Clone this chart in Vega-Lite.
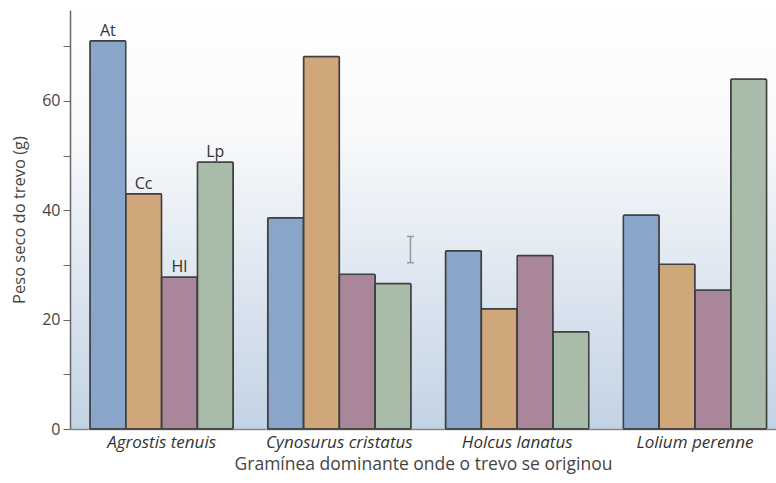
{
  "$schema": "https://vega.github.io/schema/vega-lite/v6.json",
  "width": 706,
  "height": 419,
  "autosize": "none",
  "padding": {"left": 70, "top": 10, "right": 0, "bottom": 54},
  "background": "white",
  "config": {
    "font": "Open Sans",
    "view": {
      "stroke": null,
      "fill": {
        "gradient": "linear",
        "x1": 0, "y1": 0, "x2": 0, "y2": 1,
        "stops": [
          {"offset": 0, "color": "#ffffff"},
          {"offset": 0.3, "color": "#f8f9fb"},
          {"offset": 1, "color": "#c3d3e5"}
        ]
      }
    }
  },
  "datasets": {
    "bars": [
      {"grama": "Agrostis tenuis", "serie": "At", "peso": 71.0},
      {"grama": "Agrostis tenuis", "serie": "Cc", "peso": 43.0},
      {"grama": "Agrostis tenuis", "serie": "Hl", "peso": 27.8},
      {"grama": "Agrostis tenuis", "serie": "Lp", "peso": 48.8},
      {"grama": "Cynosurus cristatus", "serie": "At", "peso": 38.6},
      {"grama": "Cynosurus cristatus", "serie": "Cc", "peso": 68.1},
      {"grama": "Cynosurus cristatus", "serie": "Hl", "peso": 28.3},
      {"grama": "Cynosurus cristatus", "serie": "Lp", "peso": 26.6},
      {"grama": "Holcus lanatus", "serie": "At", "peso": 32.6},
      {"grama": "Holcus lanatus", "serie": "Cc", "peso": 22.0},
      {"grama": "Holcus lanatus", "serie": "Hl", "peso": 31.7},
      {"grama": "Holcus lanatus", "serie": "Lp", "peso": 17.8},
      {"grama": "Lolium perenne", "serie": "At", "peso": 39.1},
      {"grama": "Lolium perenne", "serie": "Cc", "peso": 30.1},
      {"grama": "Lolium perenne", "serie": "Hl", "peso": 25.4},
      {"grama": "Lolium perenne", "serie": "Lp", "peso": 64.0}
    ],
    "erro": [
      {"grama": "Cynosurus cristatus", "lo": 30.4, "hi": 35.2}
    ]
  },
  "layer": [
    {
      "data": {"name": "bars"},
      "mark": {"type": "bar", "stroke": "#3f3f3f", "strokeWidth": 1.5, "cornerRadius": 1},
      "encoding": {
        "x": {
          "field": "grama", "type": "nominal",
          "sort": ["Agrostis tenuis", "Cynosurus cristatus", "Holcus lanatus", "Lolium perenne"],
          "scale": {"paddingInner": 0.194, "paddingOuter": 0.0824, "align": 0.68},
          "axis": {
            "title": "Gramínea dominante onde o trevo se originou",
            "titleFontSize": 17.5, "titleFontWeight": "normal", "titleColor": "#444", "titlePadding": 5,
            "labelFontSize": 17, "labelFontStyle": "italic", "labelColor": "#333", "labelPadding": 5,
            "labelAngle": 0,
            "ticks": false, "domainColor": "#888", "domainWidth": 1.5
          }
        },
        "xOffset": {"field": "serie", "type": "nominal", "sort": ["At", "Cc", "Hl", "Lp"], "scale": {"paddingInner": 0, "paddingOuter": 0}},
        "y": {
          "field": "peso", "type": "quantitative",
          "scale": {"domain": [0, 76.6], "nice": false},
          "axis": {
            "title": "Peso seco do trevo (g)",
            "titleFontSize": 16.5, "titleFontWeight": "normal", "titleColor": "#444", "titlePadding": 14,
            "values": [0, 10, 20, 30, 40, 50, 60, 70],
            "labelExpr": "datum.value % 20 == 0 ? datum.label : ''",
            "labelFontSize": 16, "labelColor": "#444", "labelPadding": 3,
            "tickSize": 7, "tickColor": "#666", "domainColor": "#666", "domainWidth": 1.5,
            "grid": false
          }
        },
        "color": {
          "field": "serie", "type": "nominal",
          "scale": {"domain": ["At", "Cc", "Hl", "Lp"], "range": ["#89a5c9", "#cfa77a", "#a9869a", "#a9bba9"]},
          "legend": null
        }
      }
    },
    {
      "data": {"name": "bars"},
      "transform": [{"filter": "datum.grama == 'Agrostis tenuis'"}],
      "mark": {"type": "text", "dy": -10, "fontSize": 16, "color": "#333"},
      "encoding": {
        "x": {"field": "grama", "type": "nominal", "sort": ["Agrostis tenuis", "Cynosurus cristatus", "Holcus lanatus", "Lolium perenne"]},
        "xOffset": {"field": "serie", "type": "nominal", "sort": ["At", "Cc", "Hl", "Lp"]},
        "y": {"field": "peso", "type": "quantitative"},
        "text": {"field": "serie"}
      }
    },
    {
      "data": {"name": "erro"},
      "mark": {"type": "rule", "color": "#999", "strokeWidth": 1.5},
      "encoding": {
        "x": {"field": "grama", "type": "nominal", "bandPosition": 0.996},
        "y": {"field": "lo", "type": "quantitative"},
        "y2": {"field": "hi"}
      }
    },
    {
      "data": {"name": "erro"},
      "transform": [{"fold": ["lo", "hi"], "as": ["k", "v"]}],
      "mark": {"type": "rule", "color": "#999", "strokeWidth": 1.5},
      "encoding": {
        "x": {"field": "grama", "type": "nominal", "bandPosition": 0.972},
        "x2": {"field": "grama", "bandPosition": 1.02},
        "y": {"field": "v", "type": "quantitative"}
      }
    }
  ]
}
